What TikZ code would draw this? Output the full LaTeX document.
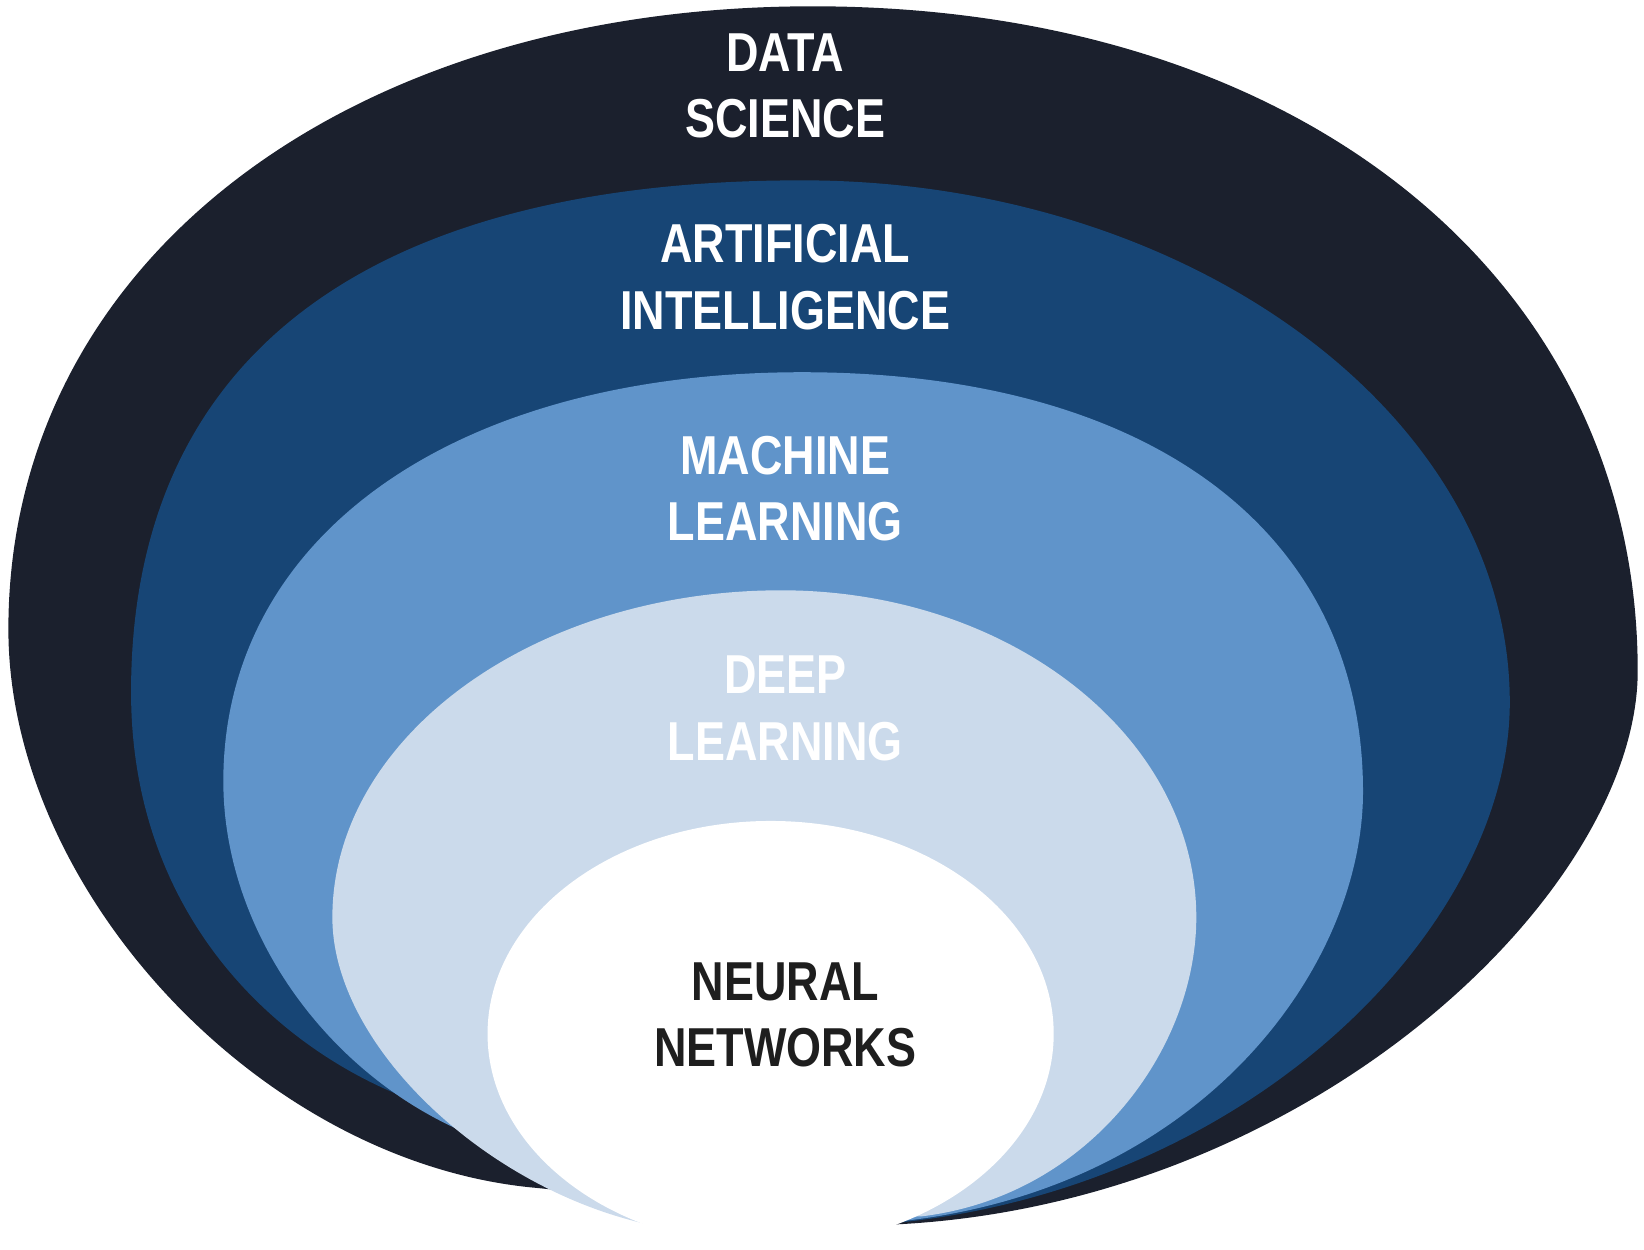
\documentclass[tikz,border=0pt]{standalone}
\usepackage{fontspec}
\setmainfont{Liberation Sans}[FakeStretch=0.82]
\definecolor{dscol}{HTML}{1B202D}
\definecolor{aicol}{HTML}{174575}
\definecolor{mlcol}{HTML}{6094CA}
\definecolor{dlcol}{HTML}{CBDAEB}
\definecolor{nntxt}{HTML}{1E1E1E}
\tikzset{
layer/.style={draw=none},
lbl/.style={align=center,inner sep=0pt,text=white,font=\bfseries\fontsize{15.6}{19}\selectfont},
nnlbl/.style={lbl,text=nntxt}
}

\begin{document}
\begin{tikzpicture}[x=0.10485mm,y=-0.10485mm]
\useasboundingbox (0,0) rectangle (1568,1192);
%%% data science
\fill[layer,dscol] (512,1133) .. controls (250,1110) and (8,850) .. (8,600)
  .. controls (8,250) and (330,6) .. (775,6)
  .. controls (1245,6) and (1562,270) .. (1562,640)
  .. controls (1562,850) and (1250,1150) .. (850,1168) -- cycle;
%%% artificial intelligence
\fill[layer,aicol] (395,1050) .. controls (260,1000) and (125,870) .. (125,660)
  .. controls (125,343) and (347,172) .. (765,172)
  .. controls (1134,172) and (1440,396) .. (1440,670)
  .. controls (1440,880) and (1200,1130) .. (858,1166) -- cycle;
%%% machine learning
\fill[layer,mlcol] (485,1095) .. controls (330,1050) and (213,900) .. (213,745)
  .. controls (213,511) and (434,355) .. (765,355)
  .. controls (1097,355) and (1300,507) .. (1300,755)
  .. controls (1300,920) and (1150,1130) .. (866,1164) -- cycle;
%%% deep learning
\fill[layer,dlcol] (629,1170) .. controls (470,1140) and (317,1000) .. (317,875)
  .. controls (317,703) and (509,563) .. (745,563)
  .. controls (964,563) and (1141,703) .. (1141,875)
  .. controls (1141,1000) and (1040,1140) .. (880,1160) -- cycle;
%%% neural networks
\fill[layer,white] (735,986) ellipse [x radius=270, y radius=203];
%%% labels
\node[lbl]   (ds) at (749,82)  {DATA\\SCIENCE};
\node[lbl]   (ai) at (749,264) {ARTIFICIAL\\INTELLIGENCE};
\node[lbl]   (ml) at (749,466) {MACHINE\\LEARNING};
\node[lbl]   (dl) at (749,676) {DEEP\\LEARNING};
\node[nnlbl] (nn) at (749,968) {NEURAL\\NETWORKS};
\end{tikzpicture}
\end{document}
